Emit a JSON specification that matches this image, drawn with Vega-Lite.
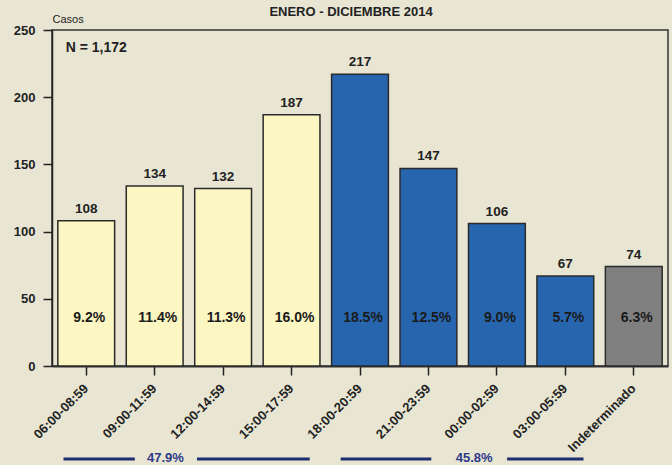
{
  "$schema": "https://vega.github.io/schema/vega-lite/v6.json",
  "width": 616,
  "height": 336,
  "autosize": {"type": "none"},
  "padding": {"left": 52, "top": 30, "right": 4, "bottom": 99},
  "background": "#e8e6d3",
  "title": {
    "text": "ENERO - DICIEMBRE 2014",
    "fontSize": 13,
    "fontWeight": "bold",
    "font": "Liberation Sans",
    "color": "#222222",
    "anchor": "middle",
    "frame": "group",
    "dx": -9,
    "offset": -6
  },
  "config": {
    "font": "Liberation Sans",
    "view": {"stroke": "#333333", "strokeWidth": 1.5}
  },
  "datasets": {
    "bars": [
      {"franja": "06:00-08:59", "casos": 108, "pct": "9.2%", "grupo": "dia"},
      {"franja": "09:00-11:59", "casos": 134, "pct": "11.4%", "grupo": "dia"},
      {"franja": "12:00-14:59", "casos": 132, "pct": "11.3%", "grupo": "dia"},
      {"franja": "15:00-17:59", "casos": 187, "pct": "16.0%", "grupo": "dia"},
      {"franja": "18:00-20:59", "casos": 217, "pct": "18.5%", "grupo": "noche"},
      {"franja": "21:00-23:59", "casos": 147, "pct": "12.5%", "grupo": "noche"},
      {"franja": "00:00-02:59", "casos": 106, "pct": "9.0%", "grupo": "noche"},
      {"franja": "03:00-05:59", "casos": 67, "pct": "5.7%", "grupo": "noche"},
      {"franja": "Indeterminado", "casos": 74, "pct": "6.3%", "grupo": "ind"}
    ],
    "resumen": [
      {"franja": "09:00-11:59", "pct": "47.9%", "grupo": "dia"},
      {"franja": "00:00-02:59", "pct": "45.8%", "grupo": "noche"}
    ],
    "total": [
      {"texto": "N = 1,172"}
    ]
  },
  "layer": [
    {
      "data": {"name": "bars"},
      "mark": {"type": "bar", "stroke": "#2a2a2a", "strokeWidth": 1.5},
      "encoding": {
        "x": {
          "field": "franja",
          "type": "nominal",
          "sort": null,
          "scale": {
            "domain": ["06:00-08:59", "09:00-11:59", "12:00-14:59", "15:00-17:59", "18:00-20:59", "21:00-23:59", "00:00-02:59", "03:00-05:59", "Indeterminado"],
            "paddingInner": 0.17,
            "paddingOuter": 0.085
          },
          "axis": {
            "title": null,
            "labelAngle": -45,
            "labelAlign": "right",
            "labelBaseline": "middle",
            "labelFontSize": 13,
            "labelFontWeight": "bold",
            "labelColor": "#222222",
            "labelPadding": 11,
            "tickSize": 9,
            "tickColor": "#222222",
            "tickWidth": 1.5,
            "domainColor": "#333333",
            "domainWidth": 2
          }
        },
        "y": {
          "field": "casos",
          "type": "quantitative",
          "scale": {"domain": [0, 250], "nice": false},
          "axis": {
            "values": [0, 50, 100, 150, 200, 250],
            "grid": false,
            "title": "Casos",
            "titleAngle": 0,
            "titleAlign": "left",
            "titleBaseline": "alphabetic",
            "titleX": 0,
            "titleY": -8,
            "titleFontSize": 11,
            "titleFontWeight": "normal",
            "titleColor": "#222222",
            "labelFontSize": 13,
            "labelFontWeight": "bold",
            "labelColor": "#222222",
            "labelPadding": 8,
            "tickSize": 9,
            "tickColor": "#222222",
            "tickWidth": 1.5,
            "domainColor": "#222222",
            "domainWidth": 1.5
          }
        },
        "color": {
          "field": "grupo",
          "type": "nominal",
          "scale": {"domain": ["dia", "noche", "ind"], "range": ["#fcf6c2", "#2766ae", "#808080"]},
          "legend": null
        }
      }
    },
    {
      "data": {"name": "bars"},
      "mark": {"type": "text", "fontSize": 13.5, "fontWeight": "bold", "color": "#222222", "baseline": "alphabetic", "dy": -8},
      "encoding": {
        "x": {"field": "franja", "type": "nominal", "sort": null},
        "y": {"field": "casos", "type": "quantitative"},
        "text": {"field": "casos", "type": "quantitative"}
      }
    },
    {
      "data": {"name": "bars"},
      "mark": {"type": "text", "fontSize": 14, "fontWeight": "bold", "color": "#1a1a1a", "baseline": "middle", "dx": 3},
      "encoding": {
        "x": {"field": "franja", "type": "nominal", "sort": null},
        "y": {"datum": 36},
        "text": {"field": "pct", "type": "nominal"}
      }
    },
    {
      "data": {"name": "total"},
      "mark": {"type": "text", "fontSize": 14, "fontWeight": "bold", "color": "#222222", "align": "left", "baseline": "alphabetic"},
      "encoding": {
        "x": {"datum": "06:00-08:59", "bandPosition": 0.14},
        "y": {"datum": 233.6},
        "text": {"field": "texto", "type": "nominal"}
      }
    },
    {
      "data": {"name": "resumen"},
      "transform": [{"filter": "datum.grupo === 'dia'"}],
      "mark": {"type": "rule", "color": "#1f2c6e", "strokeWidth": 3, "clip": false},
      "encoding": {
        "x": {"datum": "06:00-08:59", "bandPosition": 0.1},
        "x2": {"datum": "09:00-11:59", "bandPosition": 0.15},
        "y": {"datum": -69.2}
      }
    },
    {
      "data": {"name": "resumen"},
      "transform": [{"filter": "datum.grupo === 'dia'"}],
      "mark": {"type": "rule", "color": "#1f2c6e", "strokeWidth": 3, "clip": false},
      "encoding": {
        "x": {"datum": "12:00-14:59", "bandPosition": 0.04},
        "x2": {"datum": "15:00-17:59", "bandPosition": 0.82},
        "y": {"datum": -69.2}
      }
    },
    {
      "data": {"name": "resumen"},
      "transform": [{"filter": "datum.grupo === 'noche'"}],
      "mark": {"type": "rule", "color": "#1f2c6e", "strokeWidth": 3, "clip": false},
      "encoding": {
        "x": {"datum": "18:00-20:59", "bandPosition": 0.16},
        "x2": {"datum": "21:00-23:59", "bandPosition": 0.55},
        "y": {"datum": -69.2}
      }
    },
    {
      "data": {"name": "resumen"},
      "transform": [{"filter": "datum.grupo === 'noche'"}],
      "mark": {"type": "rule", "color": "#1f2c6e", "strokeWidth": 3, "clip": false},
      "encoding": {
        "x": {"datum": "00:00-02:59", "bandPosition": 0.68},
        "x2": {"datum": "03:00-05:59", "bandPosition": 0.82},
        "y": {"datum": -69.2}
      }
    },
    {
      "data": {"name": "resumen"},
      "transform": [{"filter": "datum.grupo === 'dia'"}],
      "mark": {"type": "text", "fontSize": 13, "fontWeight": "bold", "color": "#2e3a87", "baseline": "middle", "clip": false},
      "encoding": {
        "x": {"field": "franja", "type": "nominal", "sort": null, "bandPosition": 0.69},
        "y": {"datum": -68.8},
        "text": {"field": "pct", "type": "nominal"}
      }
    },
    {
      "data": {"name": "resumen"},
      "transform": [{"filter": "datum.grupo === 'noche'"}],
      "mark": {"type": "text", "fontSize": 13, "fontWeight": "bold", "color": "#2e3a87", "baseline": "middle", "clip": false},
      "encoding": {
        "x": {"field": "franja", "type": "nominal", "sort": null, "bandPosition": 0.1},
        "y": {"datum": -68.8},
        "text": {"field": "pct", "type": "nominal"}
      }
    }
  ]
}
